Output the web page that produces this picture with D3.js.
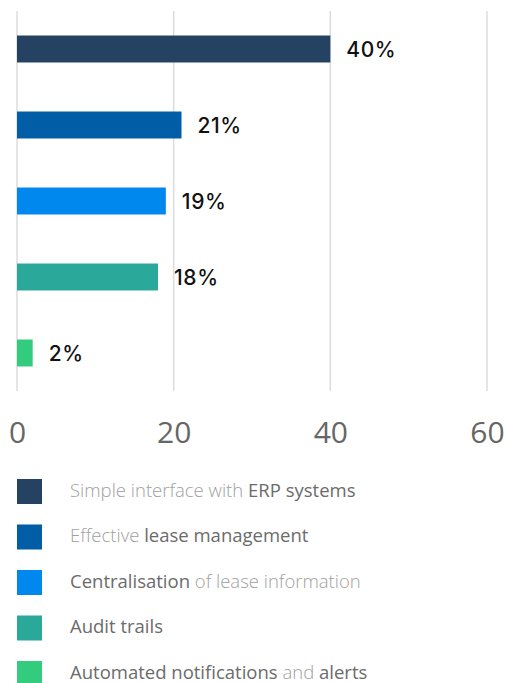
<!DOCTYPE html>
<html>
<head>
<meta charset="utf-8">
<script src="https://cdn.jsdelivr.net/npm/d3@7"></script>
<style>
  html, body { margin: 0; padding: 0; background: #fff; }
  svg { display: block; }
</style>
</head>
<body>
<svg id="chart" width="505" height="683"></svg>
<script>
// Survey results: share of respondents per feature
const categories = [
  "Simple interface with ERP systems",
  "Effective lease management",
  "Centralisation of lease information",
  "Audit trails",
  "Automated notifications and alerts"
];
const values = [40, 21, 19, 18, 2];
const colors = ["#264263", "#005da6", "#0088ee", "#2aa89a", "#33cc7f"];
const tickValues = [0, 20, 40, 60];
// Legend text split into runs; strong runs are drawn darker
const legendRuns = [
  [["Simple interface with ", false], ["ERP systems", true]],
  [["Effective ", false], ["lease management", true]],
  [["Centralisation", true], [" of lease information", false]],
  [["Audit trails", true]],
  [["Automated notifications", true], [" and ", false], ["alerts", true]]
];

const svg = d3.select("#chart");

const x = d3.scaleLinear().domain([0, 60]).range([17, 487]);
const y = d3.scaleBand().domain(categories).range([11, 391]).paddingInner(0.645).paddingOuter(0.3225);

// vertical gridlines
svg.append("g")
  .selectAll("line")
  .data(tickValues)
  .join("line")
  .attr("x1", d => x(d)).attr("x2", d => x(d))
  .attr("y1", 11).attr("y2", 391)
  .attr("stroke", "#dcdcdc")
  .attr("stroke-width", 1.5);

// bars
svg.append("g")
  .selectAll("rect")
  .data(categories)
  .join("rect")
  .attr("x", x(0))
  .attr("y", d => y(d))
  .attr("width", (d, i) => x(values[i]) - x(0))
  .attr("height", y.bandwidth())
  .attr("fill", (d, i) => colors[i]);

// value labels
svg.append("g")
  .selectAll("text")
  .data(categories)
  .join("text")
  .attr("x", (d, i) => x(values[i]) + 16)
  .attr("y", d => y(d) + y.bandwidth() / 2)
  .attr("dy", "0.36em")
  .attr("font-family", "Inter, 'Noto Sans', sans-serif")
  .attr("font-weight", 500)
  .attr("font-size", 21)
  .attr("letter-spacing", 0.6)
  .attr("fill", "#111")
  .text((d, i) => values[i] + "%");

// x axis tick labels
const axis = d3.axisBottom(x).tickValues(tickValues).tickSize(0).tickPadding(0);
const axisG = svg.append("g").attr("transform", "translate(0,421)").call(axis);
axisG.select(".domain").remove();
axisG.selectAll("text")
  .attr("dy", "0.72em")
  .attr("font-family", "'Open Sans', sans-serif")
  .attr("font-size", 30)
  .attr("fill", "#666");

// legend
const legend = svg.append("g")
  .selectAll("g")
  .data(categories)
  .join("g")
  .attr("transform", (d, i) => `translate(17,${479 + i * 45.5})`);

legend.append("rect")
  .attr("width", 25).attr("height", 25)
  .attr("fill", (d, i) => colors[i]);

legend.append("text")
  .attr("x", 53)
  .attr("y", 12)
  .attr("dy", "0.3em")
  .attr("font-family", "'Open Sans', sans-serif")
  .attr("font-size", 18.5)
  .each(function(d, i) {
    d3.select(this).selectAll("tspan")
      .data(legendRuns[i])
      .join("tspan")
      .attr("font-weight", r => r[1] ? 400 : 300)
      .attr("fill", r => r[1] ? "#6b6b6b" : "#a0a0a0")
      .text(r => r[0]);
  });
</script>
</body>
</html>
